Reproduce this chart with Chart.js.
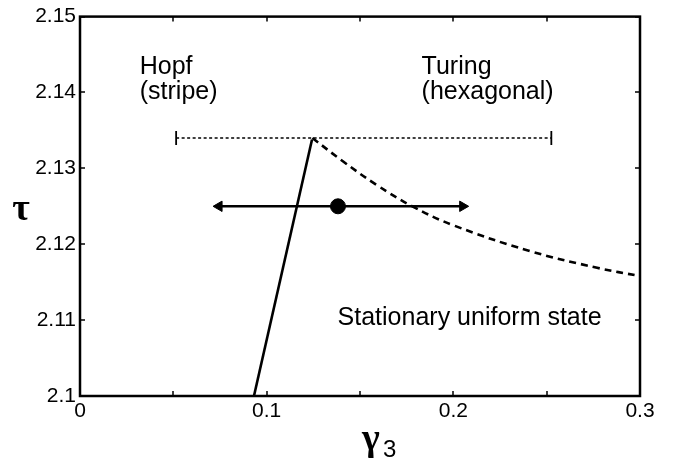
<!DOCTYPE html>
<html>
<head>
<meta charset="utf-8">
<script src="https://cdn.jsdelivr.net/npm/chart.js@4/dist/chart.umd.min.js"></script>
<style>
  body { margin: 0; background: #fff; }
  #wrap { width: 673px; height: 464px; }
</style>
</head>
<body>
<div id="wrap"><canvas id="phase" width="673" height="464"></canvas></div>
<script>
// values (gamma_3 on x, tau on y)
var hopfGamma = [0.0932, 0.1243];
var hopfTau = [2.1000, 2.1338];

var turingGamma = [0.1245, 0.141, 0.159, 0.178, 0.200, 0.241, 0.277, 0.300];
var turingTau = [2.1340, 2.1309, 2.1278, 2.1250, 2.1225, 2.1191, 2.1169, 2.1158];

var rangeGamma = [0.0515, 0.2525];
var rangeTau = [2.1340, 2.1340];

var arrowGamma = [0.0745, 0.2050];
var arrowTau = [2.1250, 2.1250];

var pointGamma = [0.1382];
var pointTau = [2.1250];

var xTicks = [0, 0.1, 0.2, 0.3];
var yTicks = [2.1, 2.11, 2.12, 2.13, 2.14, 2.15];

function toPoints(xs, ys) {
    return xs.map(function (v, i) { return { x: v, y: ys[i] }; });
}

function fmt(v) {
    return Number(v.toFixed(2)).toString();
}

// text placed on the plot (data coordinates)
var notes = [
    { text: 'Hopf', x: 0.032, y: 2.1424 },
    { text: '(stripe)', x: 0.032, y: 2.1391 },
    { text: 'Turing', x: 0.183, y: 2.1424 },
    { text: '(hexagonal)', x: 0.183, y: 2.1391 },
    { text: 'Stationary uniform state', x: 0.138, y: 2.1093 }
];

var framePlugin = {
    id: 'frame',
    afterDraw: function (chart) {
        var ctx = chart.ctx;
        var a = chart.chartArea;
        var xs = chart.scales.x;
        var ys = chart.scales.y;
        ctx.save();
        ctx.strokeStyle = '#000';
        ctx.lineWidth = 2.5;
        ctx.strokeRect(a.left, a.top, a.right - a.left, a.bottom - a.top);

        // inward ticks on all four sides
        ctx.lineWidth = 1.5;
        ctx.beginPath();
        xs.ticks.forEach(function (t) {
            var px = Math.round(xs.getPixelForValue(t.value));
            ctx.moveTo(px, a.bottom); ctx.lineTo(px, a.bottom - 5);
            ctx.moveTo(px, a.top); ctx.lineTo(px, a.top + 5);
        });
        ys.ticks.forEach(function (t) {
            var py = Math.round(ys.getPixelForValue(t.value));
            ctx.moveTo(a.left, py); ctx.lineTo(a.left + 5, py);
            ctx.moveTo(a.right, py); ctx.lineTo(a.right - 5, py);
        });
        ctx.stroke();

        // notes inside the plot
        ctx.fillStyle = '#000';
        ctx.font = '25px "Liberation Sans", Arial, sans-serif';
        ctx.textAlign = 'left';
        ctx.textBaseline = 'alphabetic';
        notes.forEach(function (n) {
            ctx.fillText(n.text, xs.getPixelForValue(n.x), ys.getPixelForValue(n.y));
        });

        // axis titles
        ctx.font = 'bold 38px "Liberation Serif", serif';
        ctx.textAlign = 'center';
        ctx.textBaseline = 'middle';
        ctx.fillText('\u03C4', 21, (a.top + a.bottom) / 2 + 4);

        ctx.textAlign = 'left';
        ctx.textBaseline = 'alphabetic';
        ctx.font = 'bold 38px "Liberation Serif", serif';
        ctx.fillText('\u03B3', 362, 450);
        ctx.font = '24px "Liberation Sans", Arial, sans-serif';
        ctx.fillText('3', 383, 457);
        ctx.restore();
    }
};

var ctx = document.getElementById('phase').getContext('2d');
var chart = new Chart(ctx, {
    type: 'scatter',
    data: {
        datasets: [
            {
                data: toPoints(rangeGamma, rangeTau),
                showLine: true,
                borderColor: '#000',
                borderWidth: 1.5,
                borderDash: [3, 2.5],
                pointStyle: 'line',
                pointRotation: 90,
                pointRadius: 7,
                pointBorderWidth: 1.8,
                pointBorderColor: '#000'
            },
            {
                data: toPoints(hopfGamma, hopfTau),
                showLine: true,
                borderColor: '#000',
                borderWidth: 2.6,
                pointRadius: 0
            },
            {
                data: toPoints(turingGamma, turingTau),
                showLine: true,
                borderColor: '#000',
                borderWidth: 2.6,
                borderDash: [7, 5],
                tension: 0.4,
                pointRadius: 0
            },
            {
                data: toPoints(arrowGamma, arrowTau),
                showLine: true,
                borderColor: '#000',
                borderWidth: 2.6,
                pointStyle: 'triangle',
                pointRotation: [-90, 90],
                pointRadius: 6,
                pointBorderWidth: 1,
                pointBackgroundColor: '#000',
                pointBorderColor: '#000'
            },
            {
                data: toPoints(pointGamma, pointTau),
                pointRadius: 7.5,
                pointBackgroundColor: '#000',
                pointBorderColor: '#000'
            }
        ]
    },
    options: {
        responsive: false,
        animation: false,
        layout: { padding: { top: 16, right: 33, left: 0, bottom: 0 } },
        plugins: {
            legend: { display: false },
            tooltip: { enabled: false }
        },
        scales: {
            x: {
                type: 'linear',
                min: 0,
                max: 0.3,
                grid: { display: false, drawTicks: false },
                border: { display: false },
                ticks: {
                    stepSize: 0.05,
                    padding: 3,
                    color: '#000',
                    font: { size: 21, family: '"Liberation Sans", Arial, sans-serif' },
                    maxRotation: 0,
                    autoSkip: false,
                    callback: function (v) {
                        var hit = xTicks.some(function (t) { return Math.abs(t - v) < 1e-6; });
                        return hit ? fmt(v) : '';
                    }
                },
                afterFit: function (s) { s.height = 68; }
            },
            y: {
                type: 'linear',
                min: 2.1,
                max: 2.15,
                grid: { display: false, drawTicks: false },
                border: { display: false },
                ticks: {
                    stepSize: 0.01,
                    padding: 4,
                    color: '#000',
                    font: { size: 21, family: '"Liberation Sans", Arial, sans-serif' },
                    autoSkip: false,
                    callback: function (v) {
                        var hit = yTicks.some(function (t) { return Math.abs(t - v) < 1e-6; });
                        return hit ? fmt(v) : '';
                    }
                },
                afterFit: function (s) { s.width = 80; }
            }
        }
    },
    plugins: [framePlugin]
});
</script>
</body>
</html>
